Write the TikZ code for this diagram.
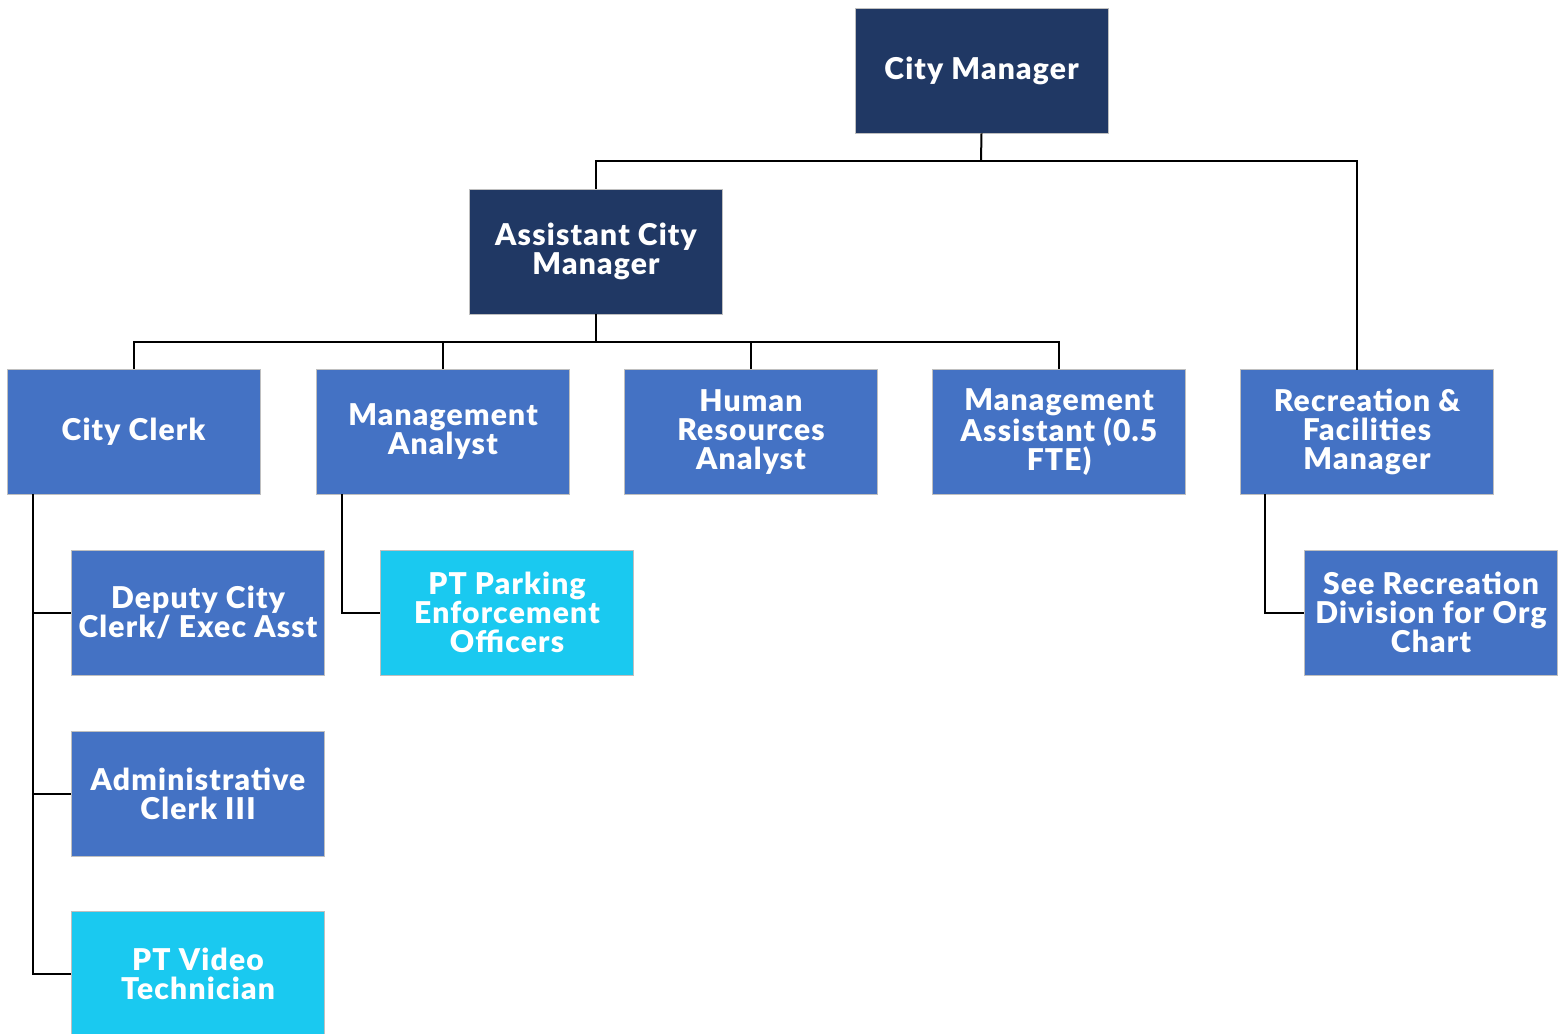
\documentclass[tikz,border=0pt]{standalone}
\usepackage{fontspec}
\setmainfont{Lato}[BoldFont={Lato Black},BoldFeatures={LetterSpace=4}]

\begin{document}
\begin{tikzpicture}[x=0.5pt,y=-0.5pt,
    orgbox/.style={shape=rectangle,draw=white!75!black,line width=0.3pt,text=white,
        minimum width=126.5pt,minimum height=62.5pt,align=center,
        font=\fontsize{15}{14.5}\selectfont\bfseries},
    link/.style={draw=black,line width=1pt}]
    \definecolor{org_dark}{RGB}{32,56,100}
    \definecolor{org_blue}{RGB}{68,114,196}
    \definecolor{org_cyan}{RGB}{26,201,240}
    \useasboundingbox (0,0) rectangle (1565,1034);
    % top level
    \node[orgbox,fill=org_dark] (citymgr) at (981.5,70.5) {City Manager};
    \node[orgbox,fill=org_dark] (asstmgr) at (596,251.5) {Assistant City\\Manager};
    % second row
    \node[orgbox,fill=org_blue] (clerk)   at (133.5,432) {City Clerk};
    \node[orgbox,fill=org_blue] (analyst) at (443,432)   {Management\\Analyst};
    \node[orgbox,fill=org_blue] (hr)      at (751,432)   {Human\\Resources\\Analyst};
    \node[orgbox,fill=org_blue] (mgmtast) at (1059,432)  {Management\\Assistant (0.5\\FTE)};
    \node[orgbox,fill=org_blue] (recmgr)  at (1367,432)  {Recreation \&\\Facilities\\Manager};
    % third row and below
    \node[orgbox,fill=org_blue] (deputy)  at (198,612.5) {Deputy City\\Clerk/ Exec Asst};
    \node[orgbox,fill=org_blue] (admin)   at (198,793.5) {Administrative\\Clerk III};
    \node[orgbox,fill=org_cyan] (video)   at (198,973.5) {PT Video\\Technician};
    \node[orgbox,fill=org_cyan] (parking) at (507,612.5) {PT Parking\\Enforcement\\Officers};
    \node[orgbox,fill=org_blue] (recdiv)  at (1431,612.5) {See Recreation\\Division for Org\\Chart};

    % connectors
    \coordinate (cmbus) at (981,161);
    \coordinate (acbus) at (596,342);
    \draw[link] (citymgr.south) -- (cmbus);
    \draw[link] (asstmgr.north) |- (cmbus) -| (1357,161) -- (1357,370);
    \draw[link] (asstmgr.south) -- (acbus);
    \draw[link] (clerk.north) |- (acbus) -| (mgmtast.north);
    \draw[link] (analyst.north) -- (443,342);
    \draw[link] (hr.north) -- (751,342);
    \draw[link] (33,494) |- (video.west);
    \draw[link] (33,612.5) -- (deputy.west);
    \draw[link] (33,793.5) -- (admin.west);
    \draw[link] (342,494) |- (parking.west);
    \draw[link] (1265,494) |- (recdiv.west);
\end{tikzpicture}
\end{document}
